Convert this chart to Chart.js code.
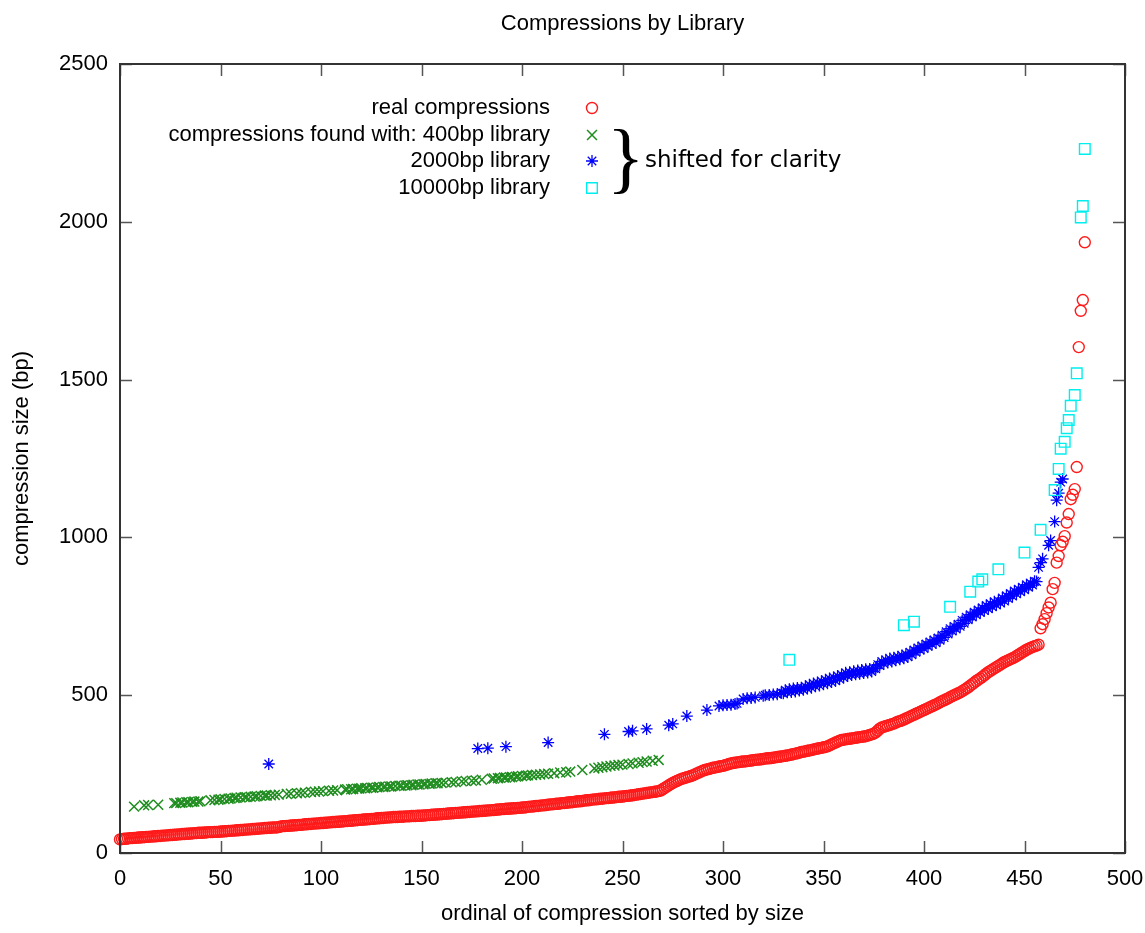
<!DOCTYPE html>
<html>
<head>
<meta charset="utf-8">
<title>Compressions by Library</title>
<style>
  html, body { margin: 0; padding: 0; background: #ffffff; }
  #wrap { width: 1145px; height: 933px; }
</style>
<script src="https://cdn.jsdelivr.net/npm/chart.js@4.4.1/dist/chart.umd.min.js"></script>
</head>
<body>
<div id="wrap"><canvas id="chart" width="1145" height="933"></canvas></div>
<script>
// ---- text ----
const chartTitle = 'Compressions by Library';
const xAxisTitle = 'ordinal of compression sorted by size';
const yAxisTitle = 'compression size (bp)';
const seriesLabels = [
  'real compressions',
  'compressions found with: 400bp library',
  '2000bp library',
  '10000bp library'
];
const braceNote = 'shifted for clarity';

// ---- axis ticks ----
const xTickValues = [0, 50, 100, 150, 200, 250, 300, 350, 400, 450, 500];
const yTickValues = [0, 500, 1000, 1500, 2000, 2500];

// ---- real compressions: size (bp) for ordinal 0, 1, 2, ... ----
const realSizes = [
  43, 44, 45, 45, 46, 47, 47, 48, 48, 49,
  49, 50, 50, 51, 51, 52, 52, 53, 53, 54,
  54, 55, 55, 56, 56, 57, 57, 58, 58, 59,
  59, 60, 60, 61, 61, 62, 62, 63, 63, 64,
  64, 64, 65, 65, 66, 66, 66, 67, 67, 67,
  68, 68, 69, 69, 70, 70, 71, 71, 72, 72,
  73, 73, 74, 74, 75, 75, 76, 76, 77, 77,
  78, 78, 79, 79, 80, 80, 81, 81, 81, 82,
  84, 85, 85, 86, 86, 87, 87, 88, 88, 89,
  89, 90, 91, 91, 92, 92, 93, 93, 94, 94,
  95, 95, 96, 96, 97, 97, 98, 98, 99, 99,
  100, 100, 101, 101, 102, 102, 103, 104, 104, 105,
  105, 106, 106, 107, 107, 108, 108, 109, 110, 110,
  111, 111, 112, 112, 113, 113, 114, 114, 114, 115,
  115, 115, 116, 116, 116, 117, 117, 117, 118, 118,
  118, 119, 119, 120, 120, 121, 121, 122, 122, 123,
  123, 124, 124, 125, 125, 126, 126, 127, 127, 128,
  128, 129, 129, 130, 130, 131, 131, 132, 132, 133,
  133, 134, 134, 135, 135, 136, 136, 137, 138, 138,
  139, 139, 140, 140, 141, 141, 142, 142, 143, 143,
  144, 144, 145, 146, 147, 147, 148, 149, 149, 150,
  151, 151, 152, 153, 154, 154, 155, 156, 156, 157,
  158, 158, 159, 160, 161, 161, 162, 163, 164, 164,
  165, 166, 167, 167, 168, 169, 170, 170, 171, 172,
  172, 173, 174, 174, 175, 176, 176, 177, 178, 178,
  179, 180, 181, 181, 182, 183, 184, 185, 186, 187,
  188, 189, 190, 191, 192, 193, 194, 195, 196, 198,
  202, 206, 210, 214, 218, 222, 225, 228, 231, 234,
  236, 238, 240, 242, 244, 246, 249, 252, 255, 258,
  261, 263, 265, 266, 268, 270, 271, 272, 274, 275,
  276, 278, 280, 282, 284, 285, 286, 287, 288, 289,
  290, 290, 291, 292, 293, 294, 295, 296, 296, 297,
  298, 299, 300, 300, 301, 302, 303, 304, 305, 306,
  307, 308, 309, 310, 312, 313, 315, 316, 318, 320,
  321, 322, 324, 325, 326, 328, 329, 331, 332, 333,
  335, 336, 338, 341, 344, 347, 350, 353, 356, 358,
  359, 360, 361, 362, 363, 364, 365, 366, 367, 368,
  369, 370, 372, 374, 376, 378, 382, 388, 394, 398,
  400, 402, 404, 406, 408, 410, 413, 416, 418, 420,
  423, 426, 429, 432, 435, 438, 441, 444, 447, 450,
  453, 456, 459, 462, 465, 468, 471, 474, 478, 481,
  484, 487, 490, 494, 497, 500, 503, 506, 509, 513,
  517, 521, 525, 530, 535, 540, 545, 549, 553, 558,
  563, 568, 573, 577, 581, 585, 589, 593, 597, 601,
  605, 608, 611, 614, 617, 620, 624, 628, 632, 636,
  640, 644, 647, 650, 653, 655, 657, 660,
  712, 725, 741, 760, 778, 793, 836, 856, 920, 941,
  975, 986, 1004, 1047, 1074, 1121, 1135, 1153, 1223, 1603,
  1718, 1752, 1935
];

// ---- 400bp library (shifted) ----
const lib400Ordinals = [
  7, 12, 14, 19,
  27, 28, 30, 31, 33, 34, 36, 37, 39, 40,
  45, 47, 49, 50, 52, 54, 55, 57, 58, 60, 62, 63, 65, 67, 68, 70, 72, 73, 75, 77, 79,
  83, 85, 88, 90, 92, 95, 97, 99, 101, 104, 106, 108,
  112, 113, 115, 116, 118, 119, 120, 122, 123, 125, 126, 128, 129, 131, 132, 134, 135, 137,
  139, 140, 142, 143, 145, 146, 148, 149, 151, 152, 154, 155, 157, 158, 160, 162, 165, 167, 170, 172, 175, 177, 180,
  185, 186, 188, 189, 191, 192, 194, 195, 197, 198, 200, 202, 203, 205, 207, 209, 211, 213, 216, 219, 222, 224,
  230,
  236, 238, 240, 242, 244, 246, 248, 250, 253, 255, 258, 260, 262, 265, 268
];
const lib400Sizes = [
  147, 151, 152, 153,
  158, 158, 159, 160, 161, 161, 162, 163, 163, 164,
  167, 168, 169, 170, 171, 172, 173, 174, 175, 176, 177, 177, 178, 179, 180, 181, 182, 182, 183, 184, 185,
  187, 188, 189, 190, 191, 193, 194, 195, 196, 197, 198, 199,
  201, 202, 202, 203, 204, 204, 205, 205, 206, 207, 207, 208, 209, 209, 210, 211, 211, 212,
  213, 213, 214, 215, 215, 216, 217, 217, 218, 219, 219, 220, 221, 221, 222, 223, 224, 225, 227, 228, 229, 230, 232,
  235, 236, 237, 238, 239, 239, 240, 241, 242, 243, 244, 245, 246, 247, 248, 249, 250, 251, 253, 255, 256, 258,
  263,
  268, 270, 272, 274, 276, 277, 279, 280, 282, 284, 286, 288, 290, 292, 295
];

// ---- 2000bp library (shifted) ----
const lib2000Ordinals = [
  74, 178, 183, 192, 213, 241, 253, 255, 262, 273, 275, 282, 292,
  298, 300, 302, 304, 306, 307, 310, 312, 314, 316, 320, 321, 323, 325, 327,
  329,
  330, 331, 332, 333, 334, 335, 336, 337, 338, 339,
  340, 341, 342, 343, 344, 345, 346, 347, 348, 349,
  350, 351, 352, 353, 354, 355, 356, 357, 358, 359,
  360, 361, 362, 363, 364, 365, 366, 367, 368, 369,
  370, 371, 372, 373, 374, 375, 376, 377, 378, 379,
  380, 381, 382, 383, 384, 385, 386, 387, 388, 389,
  390, 391, 392, 393, 394, 395, 396, 397, 398, 399,
  400, 401, 402, 403, 404, 405, 406, 407, 408, 409,
  410, 411, 412, 413, 414, 415, 416, 417, 418, 419,
  420, 421, 422, 423, 424, 425, 426, 427, 428, 429,
  430, 431, 432, 433, 434, 435, 436, 437, 438, 439,
  440, 441, 442, 443, 444, 445, 446, 447, 448, 449,
  450, 451, 452, 453, 454, 455, 456,
  457, 458, 459, 462, 463, 465, 466, 467, 468, 469
];
const lib2000Sizes = [
  282, 331, 332, 337, 350, 376, 385, 387, 393, 405, 409, 434, 453,
  466, 468, 469, 470, 472, 474, 488, 490, 491, 493, 498, 500, 501, 502, 503,
  508,
  506, 516, 509, 519, 510, 521, 512, 523, 515, 524,
  517, 528, 521, 533, 524, 537, 528, 540, 531, 544,
  535, 549, 538, 553, 542, 556, 546, 561, 551, 565,
  556, 571, 561, 573, 564, 576, 566, 578, 568, 580,
  570, 582, 572, 583, 575, 585, 584, 597, 594, 607,
  600, 612, 604, 616, 607, 619, 611, 622, 614, 626,
  617, 630, 622, 636, 628, 643, 636, 650, 643, 656,
  648, 662, 655, 669, 661, 675, 666, 681, 674, 690,
  683, 701, 694, 711, 703, 718, 710, 725, 718, 737,
  728, 747, 739, 755, 748, 763, 755, 770, 762, 777,
  768, 784, 774, 790, 780, 796, 786, 799, 792, 808,
  798, 815, 806, 822, 814, 830, 821, 836, 828, 842,
  834, 850, 842, 855, 849, 861, 860,
  905, 920, 932, 975, 990, 1050, 1118, 1140, 1175, 1185
];

// ---- 10000bp library (shifted) ----
const lib10000Ordinals = [333, 390, 395, 413, 423, 427, 429, 437, 450, 458, 465, 467, 468, 470, 471, 472, 473, 475, 476, 478, 479, 480];
const lib10000Sizes = [612, 722, 733, 780, 828, 860, 867, 899, 952, 1024, 1150, 1217, 1281, 1303, 1346, 1372, 1417, 1451, 1520, 2014, 2050, 2231];

// ---- look ----
const seriesColors = ['#ff1a1a', '#1e8c1e', '#0000ff', '#00eeee'];
const seriesStyles = ['circle', 'crossRot', 'star', 'rect'];
const seriesRadii = [5.5, 7, 6, 7.5];
const seriesLineWidths = [1.4, 1.5, 1.3, 1.4];
const FONT = '"Liberation Sans", Arial, Helvetica, sans-serif';

function pairs(xs, ys) { return xs.map((x, i) => ({ x: x, y: ys[i] })); }

// marker shapes mirroring Chart.js point styles, for the key
function drawMarker(ctx, style, x, y, r) {
  const d = r * Math.SQRT1_2;
  ctx.beginPath();
  if (style === 'circle') {
    ctx.arc(x, y, r, 0, Math.PI * 2);
  } else if (style === 'rect') {
    ctx.rect(x - d, y - d, 2 * d, 2 * d);
  } else if (style === 'crossRot') {
    ctx.moveTo(x - d, y - d); ctx.lineTo(x + d, y + d);
    ctx.moveTo(x - d, y + d); ctx.lineTo(x + d, y - d);
  } else if (style === 'star') {
    ctx.moveTo(x - r, y); ctx.lineTo(x + r, y);
    ctx.moveTo(x, y - r); ctx.lineTo(x, y + r);
    ctx.moveTo(x - d, y - d); ctx.lineTo(x + d, y + d);
    ctx.moveTo(x - d, y + d); ctx.lineTo(x + d, y - d);
  }
  ctx.stroke();
}

// frame with inward tick marks on all four sides
const framePlugin = {
  id: 'frame',
  afterDatasetsDraw(chart) {
    const { ctx, chartArea: a, scales } = chart;
    const xs = scales.x, ys = scales.y;
    const len = 12;
    ctx.save();
    ctx.strokeStyle = '#555';
    ctx.lineWidth = 1.5;
    ctx.beginPath();
    xs.ticks.forEach(t => {
      const px = Math.round(xs.getPixelForValue(t.value)) + 0.5;
      ctx.moveTo(px, a.bottom); ctx.lineTo(px, a.bottom - len);
      ctx.moveTo(px, a.top); ctx.lineTo(px, a.top + len);
    });
    ys.ticks.forEach(t => {
      const py = Math.round(ys.getPixelForValue(t.value)) + 0.5;
      ctx.moveTo(a.left, py); ctx.lineTo(a.left + len, py);
      ctx.moveTo(a.right, py); ctx.lineTo(a.right - len, py);
    });
    ctx.stroke();
    ctx.strokeStyle = '#333';
    ctx.lineWidth = 2;
    ctx.strokeRect(a.left, a.top, a.right - a.left, a.bottom - a.top);
    ctx.restore();
  }
};

// title, key and the brace note
const annotationPlugin = {
  id: 'annotations',
  afterDraw(chart) {
    const { ctx, chartArea: a } = chart;
    ctx.save();
    ctx.fillStyle = '#000';
    ctx.textBaseline = 'middle';

    ctx.font = '22px ' + FONT;
    ctx.textAlign = 'center';
    ctx.fillText(chartTitle, (a.left + a.right) / 2, 24);

    const keyRight = 550, markX = 592, rowY = [108, 135, 161, 188];
    ctx.textAlign = 'right';
    seriesLabels.forEach((label, i) => {
      ctx.fillStyle = '#000';
      ctx.fillText(label, keyRight, rowY[i]);
      ctx.strokeStyle = seriesColors[i];
      ctx.lineWidth = seriesLineWidths[i];
      drawMarker(ctx, seriesStyles[i], markX, rowY[i], seriesRadii[i]);
    });

    ctx.fillStyle = '#000';
    ctx.textAlign = 'left';
    ctx.textBaseline = 'alphabetic';
    ctx.font = '78px "Liberation Serif", "DejaVu Serif", serif';
    ctx.fillText('}', 607, 184);

    ctx.textBaseline = 'middle';
    ctx.font = '23px "DejaVu Sans", sans-serif';
    ctx.fillText(braceNote, 645, 161);
    ctx.restore();
  }
};

function dataset(i, points, order) {
  return {
    label: seriesLabels[i],
    data: points,
    showLine: false,
    pointStyle: seriesStyles[i],
    pointRadius: seriesRadii[i],
    pointHoverRadius: seriesRadii[i],
    pointBorderWidth: seriesLineWidths[i],
    borderColor: seriesColors[i],
    backgroundColor: 'rgba(0,0,0,0)',
    pointBackgroundColor: 'rgba(0,0,0,0)',
    clip: false,
    order: order
  };
}

Chart.defaults.font.family = FONT;
Chart.defaults.color = '#000';

new Chart(document.getElementById('chart'), {
  type: 'scatter',
  data: {
    datasets: [
      dataset(0, realSizes.map((v, i) => ({ x: i, y: v })), 4),
      dataset(1, pairs(lib400Ordinals, lib400Sizes), 3),
      dataset(2, pairs(lib2000Ordinals, lib2000Sizes), 2),
      dataset(3, pairs(lib10000Ordinals, lib10000Sizes), 1)
    ]
  },
  options: {
    responsive: false,
    animation: false,
    devicePixelRatio: 1,
    layout: { padding: { top: 64, right: 20, bottom: 0, left: 0 } },
    plugins: {
      legend: { display: false },
      title: { display: false },
      tooltip: { enabled: false }
    },
    events: [],
    scales: {
      x: {
        type: 'linear',
        min: 0, max: 500,
        afterBuildTicks: s => { s.ticks = xTickValues.map(v => ({ value: v })); },
        afterFit: s => { s.height = 80; s.paddingLeft = 0; s.paddingRight = 0; },
        grid: { display: false, drawTicks: false },
        border: { display: false },
        ticks: { color: '#000', font: { size: 22 }, padding: 13, maxRotation: 0, autoSkip: false, callback: v => String(v) },
        title: { display: true, text: xAxisTitle, color: '#000', font: { size: 22 }, padding: { top: 0, bottom: 6 } }
      },
      y: {
        type: 'linear',
        min: 0, max: 2500,
        afterBuildTicks: s => { s.ticks = yTickValues.map(v => ({ value: v })); },
        afterFit: s => { s.width = 120; s.paddingTop = 0; s.paddingBottom = 0; },
        grid: { display: false, drawTicks: false },
        border: { display: false },
        ticks: { color: '#000', font: { size: 22 }, padding: 12, autoSkip: false, callback: v => String(v) },
        title: { display: true, text: yAxisTitle, color: '#000', font: { size: 22 }, padding: { top: 9, bottom: 0 } }
      }
    }
  },
  plugins: [framePlugin, annotationPlugin]
});
</script>
</body>
</html>
